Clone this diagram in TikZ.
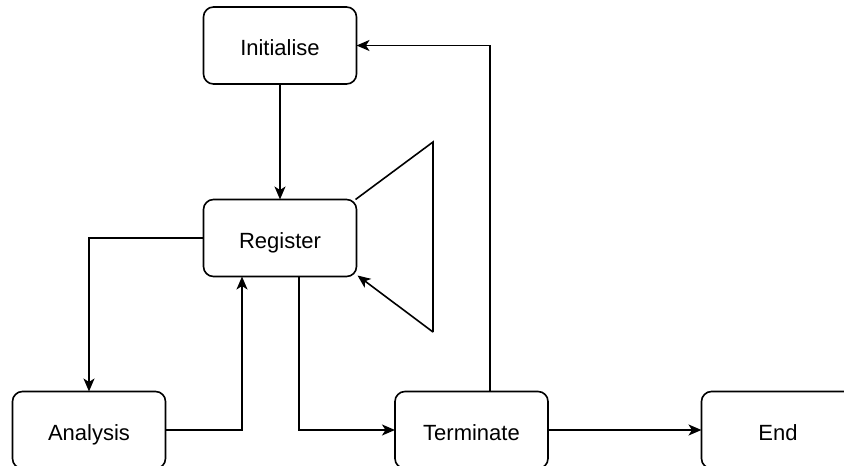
\documentclass[tikz,border=0pt]{standalone}
\usepackage{fontspec}
\setmainfont{Liberation Sans}
\usetikzlibrary{arrows.meta}
\begin{document}
\begin{tikzpicture}[x=1pt,y=-1pt,
  stagebox/.style={draw, line width=1.6pt, rounded corners=10pt, minimum width=153pt,
    minimum height=77pt, inner sep=0pt, outer sep=0pt, text height=20pt, text depth=0pt,
    font=\fontsize{22}{26}\selectfont},
  flow/.style={line width=1.6pt, -{Stealth[length=13pt,width=11pt,inset=3.5pt]}},
  plain/.style={line width=1.6pt}]
\useasboundingbox (0,0) rectangle (844,466);
\clip (0,0) rectangle (844,466);
\fill[white] (0,0) rectangle (844,466);

\node[stagebox] (init) at (280,45.5) {Initialise};
\node[stagebox] (reg) at (280,238) {Register};
\node[stagebox] (ana) at (89,430) {Analysis};
\node[stagebox] (term) at (471.5,430) {Terminate};
\node[stagebox] (fin) at (778,430) {End};

% self loop of Register through a triangular path
\coordinate (loopA) at (433,142);
\coordinate (loopB) at (433,332);
\draw[plain] ([xshift=-1pt]reg.north east) -- (loopA) -- (loopB);
\draw[flow] (loopB) -- ([xshift=1pt,yshift=1pt]reg.south east);

\draw[flow] (init) -- (reg);
\draw[flow] (reg.west) -| (ana.north);
\draw[flow] (ana.east) -| (reg.south -| 242,0);
\draw[flow] (reg.south -| 299,0) |- (term.west);
\draw[flow] (term.north -| 490,0) |- (init.east);
\draw[flow] (term) -- (fin);
\end{tikzpicture}
\end{document}
